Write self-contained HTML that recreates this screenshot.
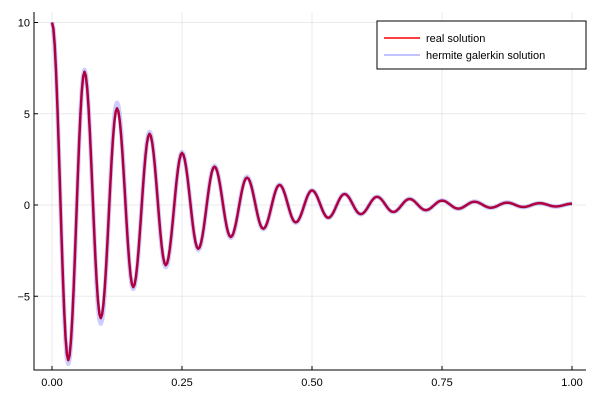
<!DOCTYPE html>
<html><head><meta charset="utf-8"><style>
body{margin:0;background:#fff}
svg{font-family:"Liberation Sans",sans-serif;display:block}
</style></head><body>
<svg id="chart" width="600" height="400">
<g id="grid"></g>
<g id="axes"></g>
<g id="series"></g>
<g>
<rect x="377" y="21" width="209" height="48" fill="#fff" stroke="#000" stroke-width="1"/>
<line x1="384" y1="38" x2="420" y2="38" stroke="#ff0000" stroke-width="1.5"/>
<text x="426" y="42" font-size="11">real solution</text>
<line x1="384" y1="55" x2="420" y2="55" stroke="rgba(80,80,255,0.35)" stroke-width="2"/>
<text x="426" y="59" font-size="11">hermite galerkin solution</text>
</g>
</svg>
<script>
const xTicks=[0,0.25,0.5,0.75,1];
const xTickLabels=["0.00","0.25","0.50","0.75","1.00"];
const yTicks=[-5,0,5,10];
const yTickLabels=["\u22125","0","5","10"];
const extremaStep=0.03125;
const realExtrema=[10,-8.5,7.3,-6.2,5.3,-4.5,3.9,-3.3,2.85,-2.4,2.1,-1.75,1.5,-1.3,1.1,-0.95,0.8,-0.7,0.6,-0.5,0.45,-0.38,0.33,-0.28,0.24,-0.2,0.18,-0.15,0.13,-0.11,0.1,-0.08,0.07];
const hermiteExtrema=[10,-8.7,7.4,-6.5,5.6,-4.6,4.0,-3.4,2.9,-2.45,2.15,-1.8,1.55,-1.33,1.12,-0.97,0.81,-0.71,0.61,-0.51,0.46,-0.39,0.34,-0.29,0.25,-0.21,0.19,-0.16,0.14,-0.12,0.1,-0.09,0.07];
const sx=t=>52+t*520;
const sy=v=>205-v*18.25;
const NS="http://www.w3.org/2000/svg";
const grid=document.getElementById('grid'),axes=document.getElementById('axes'),series=document.getElementById('series');
function mk(tag,attrs,parent){const e=document.createElementNS(NS,tag);for(const k in attrs)e.setAttribute(k,attrs[k]);parent.appendChild(e);return e;}
xTicks.forEach((t,i)=>{
 const g=mk('line',{x1:sx(t),x2:sx(t),y1:12,y2:370,stroke:'#000','stroke-opacity':0.08},grid);
 
 
 const tk=mk('line',{x1:sx(t),x2:sx(t),y1:370,y2:366,stroke:'#000'},axes);
 
 
 const tx=mk('text',{x:sx(t),y:386,'font-size':11,'text-anchor':'middle'},axes);
 tx.textContent=xTickLabels[i];
 
 
});
yTicks.forEach((v,i)=>{
 const g=mk('line',{x1:34,x2:586,y1:sy(v),y2:sy(v),stroke:'#000','stroke-opacity':0.08},grid);
 
 
 const tk=mk('line',{x1:34,x2:38,y1:sy(v),y2:sy(v),stroke:'#000'},axes);
 
 
 const tx=mk('text',{x:30,y:sy(v)+4,'font-size':11,'text-anchor':'end'},axes);
 tx.textContent=yTickLabels[i];
 
 
});
const ax=mk('path',{d:'M34 12 V370 H586',fill:'none',stroke:'#000','stroke-width':1},axes);


function pathFrom(ext){
 let d='';
 for(let k=0;k<ext.length-1;k++){
  for(let s=0;s<=12;s++){
   if(k>0&&s===0)continue;
   const f=s/12,t=(k+f)*extremaStep;
   const v=ext[k]+(ext[k+1]-ext[k])*(1-Math.cos(Math.PI*f))/2;
   d+=(d?'L':'M')+sx(t).toFixed(2)+' '+sy(v).toFixed(2);
  }
 }
 return d;
}
const hp=mk('path',{d:pathFrom(hermiteExtrema),fill:'none',stroke:'rgba(90,90,255,0.3)','stroke-width':4.5,'stroke-linejoin':'round'},series);


const rp=mk('path',{d:pathFrom(realExtrema),fill:'none',stroke:'#b0003c','stroke-width':2.5,'stroke-linejoin':'round'},series);


</script>
</body></html>
